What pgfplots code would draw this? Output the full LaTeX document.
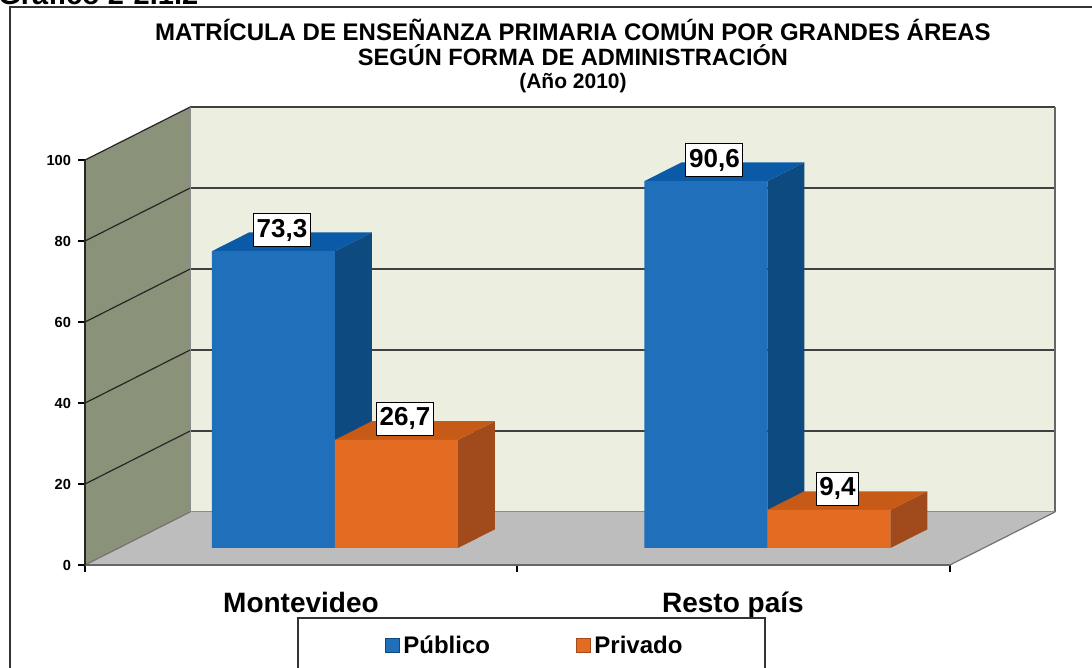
\documentclass[border=0pt]{standalone}
\usepackage{pgfplots}
\pgfplotsset{compat=1.18}
\usepackage{pgfplotstable}
\usepackage{fontspec}
\setmainfont{Liberation Sans}
\definecolor{bluefront}{HTML}{1F6FBA}
\definecolor{blueside}{HTML}{0D4A80}
\definecolor{bluetop}{HTML}{0B5AA8}
\definecolor{orfront}{HTML}{E36C22}
\definecolor{orside}{HTML}{A14A1C}
\definecolor{ortop}{HTML}{C85A18}
\definecolor{leftwall}{HTML}{8A927A}
\definecolor{backwall}{HTML}{ECEFDF}
\definecolor{floorc}{HTML}{BDBDBD}

\pgfplotstableread{
x pub priv publab privlab
0 73.3 26.7 73,3 26,7
1 90.6 9.4 90,6 9,4
}\datatable

\begin{document}
\begin{tikzpicture}
\path[use as bounding box, clip] (0pt,0pt) rectangle (546pt,-334pt);
\fill[white] (0pt,0pt) rectangle (546pt,-334pt);
\begin{scope}[x=0.5pt,y=-0.5pt]
\draw[line width=1pt, draw=black!80] (10,720) -- (10,7) -- (1120,7);
\node[font=\bfseries\fontsize{14.5}{16}\selectfont, anchor=base west, inner sep=0pt] at (-2,5) {Gráfico 2-2.1.2};
\node[font=\bfseries\fontsize{12}{13}\selectfont, anchor=base, inner sep=0pt] at (573,40.5) {MATRÍCULA DE ENSEÑANZA PRIMARIA COMÚN POR GRANDES ÁREAS};
\node[font=\bfseries\fontsize{11.8}{13}\selectfont, anchor=base, inner sep=0pt] at (573,65.5) {SEGÚN FORMA DE ADMINISTRACIÓN};
\node[font=\bfseries\fontsize{10.5}{12}\selectfont, anchor=base, inner sep=0pt] at (573,89) {(Año 2010)};
\end{scope}
\begin{axis}[
  scale only axis, width=485pt, height=229pt,
  at={(42.5pt,-282.5pt)}, anchor=south west,
  xmin=-0.578, xmax=1.665, ymin=-4.2, ymax=108.9,
  clip=false,
  axis x line*=bottom, axis y line*=left,
  axis line style={draw=none},
  ytick={-4.2,15.8,35.8,55.8,75.8,95.8},
  yticklabels={0,20,40,60,80,100},
  xtick={-0.578,0.4208,1.422}, xticklabels={},
  extra x ticks={-0.0786,0.9202},
  extra x tick labels={Montevideo,Resto país},
  extra x tick style={major tick length=0pt, tick label style={font=\bfseries\fontsize{14}{16}\selectfont, yshift=-10pt}},
  tick align=outside, major tick length=3.5pt,
  tick style={black, line width=0.6pt},
  yticklabel style={font=\bfseries\fontsize{7.3}{8}\selectfont},
  point meta=explicit symbolic,
  every node near coord/.append style={fill=white, draw=black, line width=0.5pt,
     font=\bfseries\fontsize{13}{14}\selectfont, inner sep=1.6pt, minimum height=16.5pt,
     anchor=south, yshift=2pt},
]
% walls and floor
\fill[leftwall] (axis cs:-0.578,-4.2) -- (axis cs:-0.578,95.8) -- (axis cs:-0.335,108.9) -- (axis cs:-0.335,8.89) -- cycle;
\fill[backwall] (axis cs:-0.335,8.89) -- (axis cs:1.665,8.89) -- (axis cs:1.665,108.9) -- (axis cs:-0.335,108.9) -- cycle;
\fill[floorc] (axis cs:-0.578,-4.2) -- (axis cs:1.422,-4.2) -- (axis cs:1.665,8.89) -- (axis cs:-0.335,8.89) -- cycle;
\pgfplotsinvokeforeach{28.89,48.89,68.89,88.89,108.9}{
  \draw[black!75, line width=0.9pt] (axis cs:-0.335,#1) -- (axis cs:1.665,#1);
}
\pgfplotsinvokeforeach{15.8,35.8,55.8,75.8,95.8}{
  \draw[black!85, line width=0.6pt] (axis cs:-0.578,#1) -- (axis cs:-0.335,#1+13.09);
}
\draw[black!60, line width=0.6pt] (axis cs:1.665,8.89) -- (axis cs:1.665,108.9);
\draw[black!55, line width=0.6pt] (axis cs:1.422,-4.2) -- (axis cs:1.665,8.89);
\draw[black!55, line width=0.6pt] (axis cs:-0.578,-4.2) -- (axis cs:-0.335,8.89);
\draw[black!45, line width=0.5pt] (axis cs:-0.335,8.89) -- (axis cs:1.665,8.89);
\draw[black!45, line width=0.5pt] (axis cs:-0.335,8.89) -- (axis cs:-0.335,108.9);
\draw[black!60, line width=1pt] (axis cs:-0.578,-4.2) -- (axis cs:1.422,-4.2);
\draw[black!85, line width=0.7pt] (axis cs:-0.578,-4.2) -- (axis cs:-0.578,95.8);
% Publico 3D faces
\addplot[fill=blueside, draw=none] coordinates {(0,0) (0,73.3) (0.0855,77.91) (0.0855,4.61)};
\addplot[fill=bluetop, draw=none] coordinates {(-0.2844,73.3) (0,73.3) (0.0855,77.91) (-0.1989,77.91)};
\addplot[fill=blueside, draw=none] coordinates {(1,0) (1,90.6) (1.0855,95.21) (1.0855,4.61)};
\addplot[fill=bluetop, draw=none] coordinates {(0.7156,90.6) (1,90.6) (1.0855,95.21) (0.8011,95.21)};
\addplot[ybar, bar width=0.2844, bar shift=-0.1422, fill=bluefront, draw=none, nodes near coords,
  every node near coord/.append style={xshift=-26.5pt}] table[x=x, y=pub, meta=publab] {\datatable};
% Privado 3D faces
\addplot[fill=orside, draw=none] coordinates {(0.2844,0) (0.2844,26.7) (0.3699,31.31) (0.3699,4.61)};
\addplot[fill=ortop, draw=none] coordinates {(0,26.7) (0.2844,26.7) (0.3699,31.31) (0.0855,31.31)};
\addplot[fill=orside, draw=none] coordinates {(1.2844,0) (1.2844,9.4) (1.3699,14.01) (1.3699,4.61)};
\addplot[fill=ortop, draw=none] coordinates {(1,9.4) (1.2844,9.4) (1.3699,14.01) (1.0855,14.01)};
\addplot[ybar, bar width=0.2844, bar shift=0.1422, fill=orfront, draw=none, nodes near coords,
  every node near coord/.append style={xshift=35pt}] table[x=x, y=priv, meta=privlab] {\datatable};
\end{axis}
\begin{scope}[x=0.5pt,y=-0.5pt]
\draw[line width=0.8pt, draw=black!80, fill=white] (298,618) rectangle (765,720);
\fill[bluefront] (385,638) rectangle (399,652);
\draw[blueside, line width=0.5pt] (385,638) rectangle (399,652);
\node[anchor=west, inner sep=0pt, font=\bfseries\fontsize{12}{14}\selectfont] at (403,645) {Público};
\fill[orfront] (576,638) rectangle (590,652);
\draw[orside, line width=0.5pt] (576,638) rectangle (590,652);
\node[anchor=west, inner sep=0pt, font=\bfseries\fontsize{12}{14}\selectfont] at (594,645) {Privado};
\end{scope}
\end{tikzpicture}
\end{document}
